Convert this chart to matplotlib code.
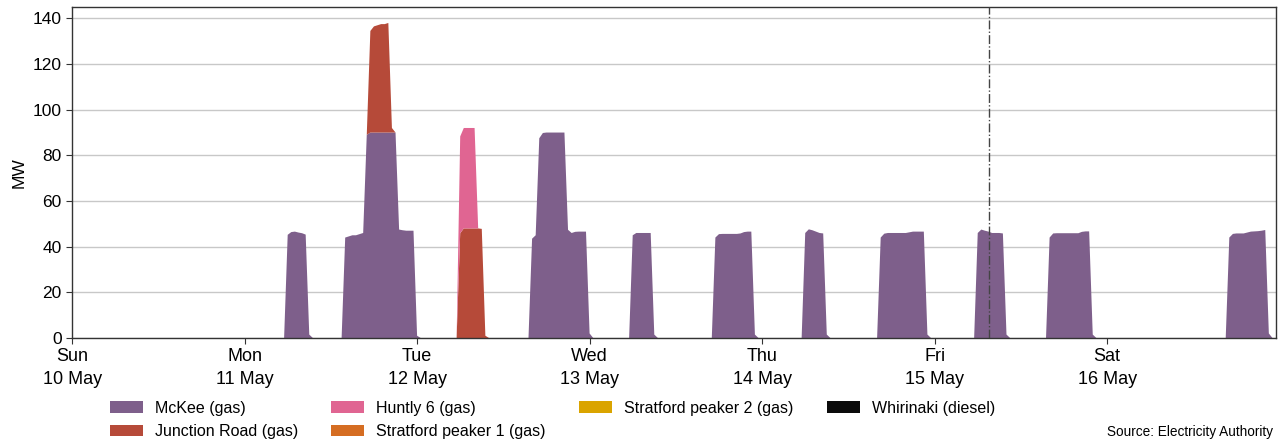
import numpy as np
import pandas as pd
import matplotlib
matplotlib.use("Agg")
import matplotlib.pyplot as plt

plt.rcParams["font.family"] = ["Liberation Sans", "DejaVu Sans"]

# half-hourly trading periods for the week
periods = pd.date_range("2020-05-10 00:00", "2020-05-16 23:30", freq="30min")

# each run: (first half-hour with output, MW values from then on)
mckee_runs = [
    ("2020-05-11 06:00", [45.2, 46.4, 46.6, 46.2, 45.9, 45.3, 1.5]),
    ("2020-05-11 14:00", [44, 44.5, 45, 45, 45.5, 46, 89, 90, 90, 90, 90, 90, 90, 90, 90,
                          47.5, 47.2, 47, 47, 47, 1]),
    ("2020-05-12 16:00", [43.5, 45, 87.5, 89.8, 90, 90, 90, 90, 90, 90, 47.4, 46, 46.5,
                          46.6, 46.6, 46.6, 2]),
    ("2020-05-13 06:00", [45, 46, 46, 46, 46, 46, 1.5]),
    ("2020-05-13 17:30", [44, 45.5, 45.6, 45.6, 45.6, 45.6, 45.6, 45.8, 46.4, 46.6, 46.6, 1.5]),
    ("2020-05-14 06:00", [46, 47.6, 47.2, 46.6, 46, 45.8, 1.5]),
    ("2020-05-14 16:30", [44, 45.7, 46, 46, 46, 46, 46, 46, 46.3, 46.6, 46.6, 46.6, 46.6, 1.5]),
    ("2020-05-15 06:00", [46, 47.5, 47, 46.6, 46, 46, 46, 45.8, 1.5]),
    ("2020-05-15 16:00", [44, 45.8, 45.9, 45.9, 45.9, 45.9, 45.9, 45.9, 45.9, 46.5, 46.7,
                          46.7, 1.5]),
    ("2020-05-16 17:00", [44, 45.6, 45.8, 45.8, 45.8, 46.2, 46.6, 46.7, 46.8, 47, 47.3, 2]),
]
junction_road_runs = [
    ("2020-05-11 17:30", [44.5, 46.5, 47, 47.5, 47.5, 48, 2]),
    ("2020-05-12 06:00", [45.9, 48, 48, 48, 48, 48, 47.8, 1]),
]
huntly6_runs = [
    ("2020-05-12 06:00", [42.4, 44, 44, 44, 44]),
]
stratford1_runs = []
stratford2_runs = []
whirinaki_runs = []

stations = ["McKee (gas)", "Junction Road (gas)", "Huntly 6 (gas)",
            "Stratford peaker 1 (gas)", "Stratford peaker 2 (gas)", "Whirinaki (diesel)"]
colors = ["#7e5f8b", "#b64a39", "#e06592", "#d56d22", "#daa400", "#0b0b0b"]

now_marker = pd.Timestamp("2020-05-15 07:30")


def build_series(runs):
    s = pd.Series(0.0, index=periods)
    for start, vals in runs:
        i0 = periods.get_loc(pd.Timestamp(start))
        s.iloc[i0:i0 + len(vals)] = vals
    return s


gen = pd.DataFrame({
    name: build_series(runs)
    for name, runs in zip(stations, [mckee_runs, junction_road_runs, huntly6_runs,
                                     stratford1_runs, stratford2_runs, whirinaki_runs])
})

fig = plt.figure(figsize=(12.8, 4.42), dpi=100)
ax = fig.add_axes([0.0563, 0.2353, 0.9406, 0.7489])

polys = ax.stackplot(gen.index, *[gen[c].values for c in stations],
                     colors=colors, labels=stations, zorder=2)

ax.axvline(now_marker, color="#444444", lw=1, ls="-.", zorder=3)

ax.set_xlim(periods[0], periods[-1])
ax.set_ylim(0, 145)
ax.set_yticks(range(0, 141, 20))
ax.yaxis.grid(True, color="#c8c8c8", lw=1, zorder=0)
ax.set_axisbelow(True)
ax.set_ylabel("MW", fontsize=12.5, labelpad=4)

# one tick per day at midnight
days = pd.date_range(periods[0], periods[-1], freq="D")
ax.set_xticks(days, [d.strftime("%a\n%-d %b") for d in days])
for lbl in ax.get_xticklabels():
    lbl.set_linespacing(1.4)
ax.tick_params(axis="x", labelsize=13, length=4, color="#333333")
ax.tick_params(axis="y", labelsize=12.5, length=4, color="#333333")

for sp in ax.spines.values():
    sp.set_color("#333333")
    sp.set_linewidth(1)

fig.legend(handles=polys, labels=stations, loc="upper left",
           bbox_to_anchor=(0.0859, 0.0935), ncol=4, frameon=False,
           fontsize=11.5, handlelength=2.05, handleheight=0.73,
           handletextpad=0.75, columnspacing=2.1, labelspacing=0.54,
           borderpad=0, borderaxespad=0)

fig.text(0.9945, 0.006, "Source: Electricity Authority", ha="right", va="bottom",
         fontsize=9.8)

fig.savefig("out.png", dpi=100)
